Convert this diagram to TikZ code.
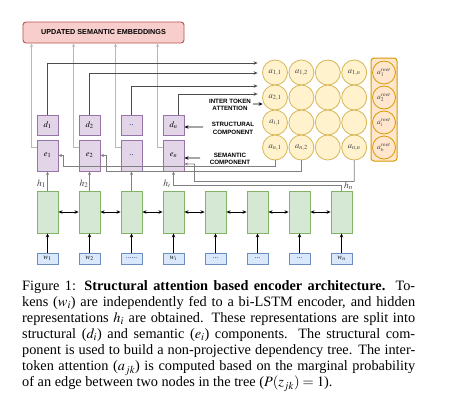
\documentclass[tikz,border=0pt]{standalone}
\usepackage{mathptmx}
\usepackage{fontspec}
\setmainfont{Liberation Serif}
\setsansfont{Liberation Sans}
\usetikzlibrary{arrows.meta,calc}
\definecolor{pinkf}{HTML}{F8CECC}\definecolor{pinkd}{HTML}{B85450}
\definecolor{purf}{HTML}{E1D5E7}\definecolor{purd}{HTML}{9673A6}
\definecolor{grnf}{HTML}{D5E8D4}\definecolor{grnd}{HTML}{82B366}
\definecolor{bluf}{HTML}{DAE8FC}\definecolor{blud}{HTML}{6C8EBF}
\definecolor{yelf}{HTML}{FFF2CC}\definecolor{yeld}{HTML}{D6B656}
\definecolor{orf}{HTML}{FFE6CC}\definecolor{ord}{HTML}{D79B00}
\definecolor{lgray}{HTML}{B8B8B8}\definecolor{mgray}{HTML}{808080}\definecolor{dgray}{HTML}{4D4D4D}
\definecolor{txtg}{HTML}{404040}\definecolor{dotb}{HTML}{203080}
\begin{document}
\begin{tikzpicture}[x=1bp,y=-1bp,
  >={Stealth[length=4bp,width=3.5bp]},
  box/.style={draw, line width=0.9bp, inner sep=0pt, minimum width=21bp, font=\fontsize{8.5bp}{10bp}\selectfont},
  dbox/.style={box, fill=purf, draw=purd, minimum height=20bp},
  ebox/.style={box, fill=purf, draw=purd, minimum height=31bp},
  lstm/.style={box, fill=grnf, draw=grnd, minimum height=42bp},
  wbox/.style={box, fill=bluf, draw=blud, minimum height=11bp, font=\fontsize{7.5bp}{9bp}\selectfont},
  cell/.style={circle, draw=yeld, fill=yelf, line width=0.8bp, minimum size=25bp, inner sep=0pt, text=txtg, font=\fontsize{8.5bp}{10bp}\selectfont},
  rcell/.style={cell, draw=ord, fill=orf, minimum size=23bp, font=\fontsize{7.5bp}{9bp}\selectfont},
  lab/.style={font=\sffamily\bfseries\fontsize{6.2bp}{7.2bp}\selectfont, align=center, inner sep=0pt},
  hlab/.style={font=\fontsize{9.5bp}{11bp}\selectfont, inner sep=0pt, text=txtg},
  toban/.style={draw=lgray, line width=0.8bp, ->, >={Stealth[length=3.5bp,width=3bp]}},
  toatt/.style={draw=dgray, line width=0.8bp, ->, >={Stealth[length=4bp,width=3.5bp]}},
  toe/.style={draw=mgray, line width=0.8bp, ->, >={Stealth[length=3.5bp,width=3bp]}},
  blk/.style={draw=black, line width=0.9bp, ->},
  dbl/.style={draw=black, line width=1bp, <->}
]
\fill[white] (0,0) rectangle (457,404);
\useasboundingbox (0,0) rectangle (457,404);

% banner
\node[draw=pinkd, fill=pinkf, rounded corners=3bp, line width=0.9bp, minimum width=161bp, minimum height=21bp, inner sep=0pt,
      font=\sffamily\bfseries\fontsize{7.2bp}{8bp}\selectfont] (ban) at (103.5,32.5) {UPDATED SEMANTIC EMBEDDINGS};

% d and e boxes
\foreach \i/\dl/\el in {1/$d_1$/$e_1$, 2/$d_2$/$e_2$, 3/{\textcolor{dotb}{..}}/{\textcolor{dotb}{..}}, 4/$d_n$/$e_n$}{
  \node[dbox] (d\i) at ({47.5+42*(\i-1)},125) {\dl};
  \node[ebox] (e\i) at ({47.5+42*(\i-1)},155.5) {\el};
}
% lstm and w boxes
\foreach \i/\wl in {1/$w_1$, 2/$w_2$, 3/{\textcolor{dotb}{......}}, 4/$w_i$, 5/{\textcolor{dotb}{...}}, 6/{\textcolor{dotb}{...}}, 7/{\textcolor{dotb}{...}}, 8/$w_n$}{
  \node[lstm] (l\i) at ({47.5+42*(\i-1)},212) {};
  \node[wbox] (w\i) at ({47.5+42*(\i-1)},258.5) {\wl};
}

% attention matrix
\node[cell] (a11) at (275,72.5) {$a_{1,1}$};
\node[cell] (a12) at (301.4,72.5) {$a_{1,2}$};
\node[cell] (a13) at (327.8,72.5) {};
\node[cell] (a14) at (354.2,72.5) {$a_{1,n}$};
\node[cell] (a21) at (275,97.5) {$a_{2,1}$};
\node[cell] (a22) at (301.4,97.5) {};
\node[cell] (a23) at (327.8,97.5) {};
\node[cell] (a24) at (354.2,97.5) {};
\node[cell] (a31) at (275,122.5) {$a_{i,1}$};
\node[cell] (a32) at (301.4,122.5) {};
\node[cell] (a33) at (327.8,122.5) {};
\node[cell] (a34) at (354.2,122.5) {};
\node[cell] (a41) at (275,147.5) {$a_{n,1}$};
\node[cell] (a42) at (301.4,147.5) {$a_{n,2}$};
\node[cell] (a43) at (327.8,147.5) {};
\node[cell] (a44) at (354.2,147.5) {$a_{n,n}$};

% root column
\node[draw=ord, fill=orf, rounded corners=3bp, line width=1bp, minimum width=26bp, minimum height=103bp, inner sep=0pt] (rootbox) at (384,109.5) {};
\node[rcell] (r1) at (384,72.5) {$a_1^{root}$};
\node[rcell] (r2) at (384,97.5) {$a_2^{root}$};
\node[rcell] (r3) at (384,122.5) {$a_i^{root}$};
\node[rcell] (r4) at (384,147.5) {$a_n^{root}$};

% labels
\node[lab] (itlab) at (230,104.5) {INTER TOKEN\\ATTENTION};
\node[lab] (stlab) at (233,128.3) {STRUCTURAL\\COMPONENT};
\node[lab] (selab) at (230,158.5) {SEMANTIC\\COMPONENT};
\coordinate (itA) at (253,104);
\coordinate (stA) at (203,127);
\coordinate (seA) at (200,158);

% h labels
\node[hlab] (h1) at (41.5,184) {$h_1$};
\node[hlab] (h2) at (84,184) {$h_2$};
\node[hlab] (hi) at (167,184) {$h_i$};
\node[hlab] (hn) at (348.5,186) {$h_n$};

% e -> banner
\foreach \i in {1,...,4}{
  \draw[toban] ([yshift=8.5bp]e\i.west) -| ([xshift=-5bp]e\i.west |- ban.south);
}

% d -> attention
\draw[toatt] (d1.north) |- ($(a11.west)+(-4.5,-9.5)$);
\draw[toatt] (d2.north) |- ($(a11.west)+(-4.5,0.5)$);
\draw[toatt] (d3.north) |- ($(a21.west)+(-4.5,-11.5)$);
\draw[toatt] ([xshift=4.5bp]d4.north) |- ($(a21.west)+(-4.5,-3.5)$);

% h -> e
\draw[toe] (l1.north) -- (e1.south);
\draw[toe] (l2.north) -- (e2.south);
\draw[toe] (l3.north) -- (e3.south);
\draw[toe] (l8.north) -- ++(0,-5.5) -| (e4.south);

% attention -> e
\draw[toe] (a41.south) -- ++(0,5.5) -| ($(e1.east)+(5,0)$) -- (e1.east);
\draw[toe] (a42.south) -- ++(0,11) -| ($(e2.east)+(5.5,0)$) -- (e2.east);
\draw[toe] (a44.south) -- ++(0,21) -| ($(e4.east)+(10,8.5)$) -- ([yshift=-8.5bp]e4.east);

% label arrows
\draw[blk] (itA) -- ($(a21.west)+(0.5,6.5)$);
\draw[blk] (stA) -- ([yshift=-2bp]d4.east);
\draw[blk] (seA) -- ([yshift=-2.5bp]e4.east);

% bi-LSTM
\foreach \i [evaluate=\i as \j using int(\i+1)] in {1,...,7}{
  \draw[dbl] (l\i.east) -- (l\j.west);
}
\foreach \i in {1,...,8}{
  \draw[blk] (w\i.north) -- (l\i.south);
}

% caption
\node[anchor=north west, inner sep=0pt, align=left, font=\fontsize{14.3bp}{16.1bp}\selectfont] (cap) at (22,280.2) {%
\makebox[393bp][s]{Figure 1: \textbf{Structural attention based encoder architecture.} To-}\\
\makebox[393bp][s]{kens ($w_i$) are independently fed to a bi-LSTM encoder, and hidden}\\
\makebox[393bp][s]{representations $h_i$ are obtained. These representations are split into}\\
\makebox[393bp][s]{structural ($d_i$) and semantic ($e_i$) components. The structural com-}\\
\makebox[393bp][s]{ponent is used to build a non-projective dependency tree. The inter-}\\
\makebox[393bp][s]{token attention ($a_{jk}$) is computed based on the marginal probability}\\
of an edge between two nodes in the tree ($P(z_{jk}) = 1$).};
\end{tikzpicture}
\end{document}
